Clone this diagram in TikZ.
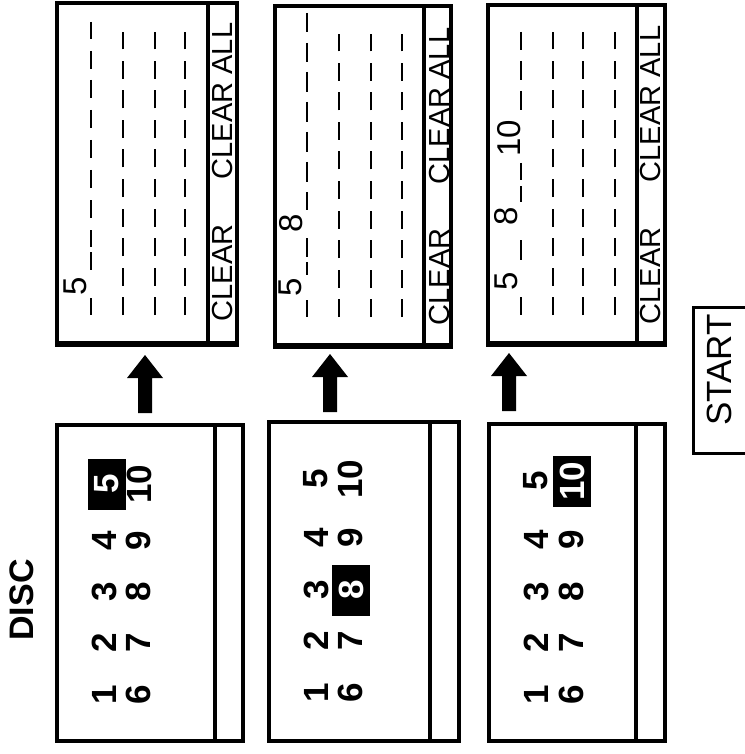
\documentclass[tikz,border=0pt]{standalone}
\usepackage{fontspec}
\setmainfont{Liberation Sans}
\begin{document}
\begin{tikzpicture}[x=1pt,y=-1pt,
  boxline/.style={line width=4.8pt},
  dashline/.style={line width=2.3pt, dash pattern=on 18pt off 11.5pt},
  solidseg/.style={line width=2.3pt},
  clr/.style={rotate=90,inner sep=0pt,font=\fontsize{29}{29}\selectfont},
  topnum/.style={rotate=90,inner sep=0pt,font=\fontsize{33}{33}\selectfont},
  discnum/.style={rotate=90,inner sep=0pt,font=\fontsize{35}{35}\selectfont\bfseries},
  hilite/.style={rotate=90,inner sep=0pt,fill=black,text=white,minimum width=51pt,minimum height=38pt,font=\fontsize{35}{35}\selectfont\bfseries},
  lbl/.style={rotate=90,inner sep=0pt}]
\useasboundingbox (0,0) rectangle (744,754);
\fill[white] (0,0) rectangle (744,754);

% ---------- top boxes ----------
\draw[boxline] (57,3) rectangle (237,343);
\draw[boxline] (208,3) -- (208,343);
\draw[line width=6pt] (55,344) -- (239,344);
\draw[boxline] (275,6) rectangle (451,345);
\draw[boxline] (424,6) -- (424,345);
\draw[line width=6pt] (273,346) -- (453,346);
\draw[boxline] (488,5) rectangle (665,343);
\draw[boxline] (637,5) -- (637,343);
\draw[line width=6pt] (486,344) -- (667,344);

% dashed lines (lines 2-4)
\foreach \x in {123,155,185} \draw[dashline] (\x,315) -- (\x,32);
\foreach \x in {339,371,402} \draw[dashline] (\x,317) -- (\x,34);
\foreach \x in {553,583,615} \draw[dashline] (\x,315) -- (\x,32);

% first lines with entries
\foreach \a/\b in {22/39,51/69,80/98,110/128,140/158,170/188,200/218,230/247,252/270,298/315}
  \draw[solidseg] (91,\a) -- (91,\b);
\foreach \a/\b in {13/32,43/62,72/92,102/122,132/152,162/182,192/210,238/257,262/275,300/317}
  \draw[solidseg] (307,\a) -- (307,\b);
\foreach \a/\b in {32/50,61/80,91/110,163/180,186/202,240/260,297/315}
  \draw[solidseg] (521,\a) -- (521,\b);

\node[topnum] (t1n5) at (75,286) {5};
\node[topnum] (t2n5) at (290,287) {5};
\node[topnum] (t2n8) at (291,223) {8};
\node[topnum] (t3n5) at (506,281) {5};
\node[topnum] (t3n8) at (506,216) {8};
\node[topnum] (t3n10) at (509,138) {10};

\node[clr] (t1c) at (223,273) {CLEAR};
\node[clr] (t1ca) at (223,101) {CLEAR ALL};
\node[clr] (t2c) at (440,277) {CLEAR};
\node[clr] (t2ca) at (440,106) {CLEAR ALL};
\node[clr] (t3c) at (651,276) {CLEAR};
\node[clr] (t3ca) at (651,104) {CLEAR ALL};

% ---------- bottom boxes ----------
\draw[boxline] (57,425) rectangle (243,741);
\draw[boxline] (215,425) -- (215,741);
\draw[boxline] (269,422) rectangle (459,741);
\draw[boxline] (430,422) -- (430,741);
\draw[boxline] (489,424) rectangle (665,741);
\draw[boxline] (636,424) -- (636,741);

% highlights
\node[hilite] (h1) at (107,484) {5};
\node[hilite] (h2) at (351,590) {8};
\node[hilite] (h3) at (572,481) {10};

% disc numbers box 1
\node[discnum] (a1) at (104,695) {1};
\node[discnum] (a2) at (104,643) {2};
\node[discnum] (a3) at (104,592) {3};
\node[discnum] (a4) at (104,541) {4};
\node[discnum] (a6) at (138,695) {6};
\node[discnum] (a7) at (138,643) {7};
\node[discnum] (a8) at (138,592) {8};
\node[discnum] (a9) at (138,541) {9};
\node[discnum] (a10) at (139,484) {10};
% box 2
\node[discnum] (b1) at (316,693) {1};
\node[discnum] (b2) at (316,641) {2};
\node[discnum] (b3) at (316,590) {3};
\node[discnum] (b4) at (316,538) {4};
\node[discnum] (b5) at (316,479) {5};
\node[discnum] (b6) at (350,693) {6};
\node[discnum] (b7) at (350,641) {7};
\node[discnum] (b9) at (350,538) {9};
\node[discnum] (b10) at (350,479) {10};
% box 3
\node[discnum] (c1) at (536,695) {1};
\node[discnum] (c2) at (536,643) {2};
\node[discnum] (c3) at (536,592) {3};
\node[discnum] (c4) at (536,540) {4};
\node[discnum] (c5) at (536,481) {5};
\node[discnum] (c6) at (571,695) {6};
\node[discnum] (c7) at (571,643) {7};
\node[discnum] (c8) at (571,592) {8};
\node[discnum] (c9) at (571,540) {9};

% labels
\node[lbl,font=\fontsize{34}{34}\selectfont\bfseries] (disc) at (22,600) {DISC};
\draw[line width=3pt] (760,307) -- (693,307) -- (693,453) -- (760,453);
\node[lbl,font=\fontsize{35}{35}\selectfont] (start) at (719,370) {START};

% ---------- block arrows ----------
\coordinate (p1) at (145,355);
\coordinate (p2) at (330,354);
\coordinate (p3) at (509,353);
\foreach \p in {p1,p2,p3}
  \fill (\p) -- ++(18,23) -- ++(-11,0) -- ++(0,35) -- ++(-14,0) -- ++(0,-35) -- ++(-11,0) -- cycle;
\end{tikzpicture}
\end{document}
